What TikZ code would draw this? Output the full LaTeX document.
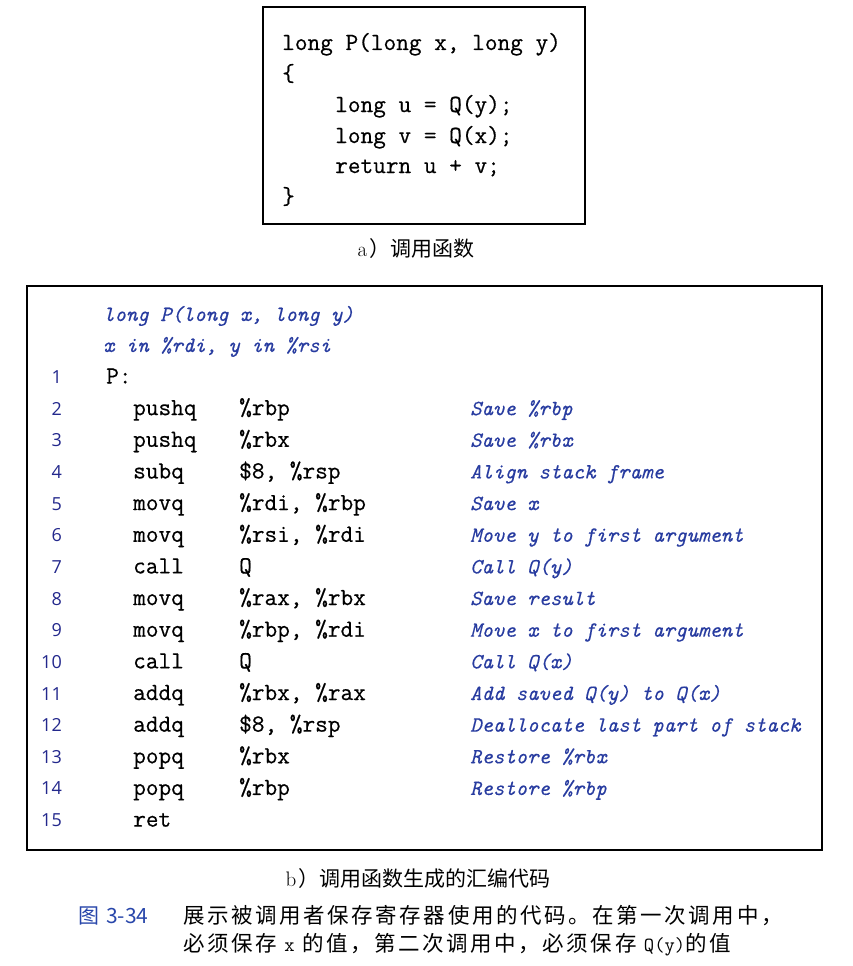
\documentclass[tikz,border=0pt]{standalone}
\usepackage{fontspec}
\newfontfamily\cjk{Noto Sans CJK SC}
\newfontfamily\cjkls[LetterSpace=12]{Noto Sans CJK SC}
\newfontfamily\numfont{Open Sans}
\newfontfamily\codefont[FakeBold=0.5]{Latin Modern Mono}
\newfontfamily\cmtfont[FakeBold=0.3]{Latin Modern Mono}
\definecolor{cmt}{RGB}{40,60,160}
\definecolor{lnum}{RGB}{35,40,140}
\definecolor{capblue}{RGB}{40,70,170}
\begin{document}
\begin{tikzpicture}[x=1pt,y=-1pt,
  code/.style={anchor=base west, inner sep=0pt, font=\fontsize{24.6}{28}\selectfont\codefont},
  cmtx/.style={anchor=base west, inner sep=0pt, text=cmt, font=\fontsize{21.7}{26}\selectfont\cmtfont\itshape},
  lno/.style={anchor=base east, inner sep=0pt, text=lnum, font=\fontsize{18}{20}\selectfont\numfont},
  boxframe/.style={draw, line width=1.3pt},
  captxt/.style={inner sep=0pt, font=\fontsize{21}{24}\selectfont\cjk}
]
\useasboundingbox (0,0) rectangle (852,966);
% ---- box a
\draw[boxframe] (263,7) rectangle (585,224);
\node[code] (a1) at (282,50) {long P(long x, long y)};
\node[code] (a2) at (282,81) {\{};
\node[code] (a3) at (335,112) {long u = Q(y);};
\node[code] (a4) at (335,143) {long v = Q(x);};
\node[code] (a5) at (335,173) {return u + v;};
\node[code] (a6) at (282,204) {\}};
\node[captxt] (capa) at (416,249) {{\rmfamily a}\hspace{2pt}）调用函数};
% ---- box b
\draw[boxframe] (27,286) rectangle (822,850);
\node[cmtx] (h1) at (103,321) {long P(long x, long y)};
\node[cmtx] (h2) at (103,352) {x in \%rdi, y in \%rsi};
% line 1
\node[lno] (n1) at (62,383.5) {1};
\node[code] (c1) at (106,383.5) {P:};
% line 2
\node[lno] (n2) at (62,415.15) {2};
\node[code] (m2) at (133,415.15) {pushq};
\node[code] (o2) at (239,415.15) {\%rbp};
\node[cmtx] (k2) at (470,415.15) {Save \%rbp};
% line 3
\node[lno] (n3) at (62,446.8) {3};
\node[code] (m3) at (133,446.8) {pushq};
\node[code] (o3) at (239,446.8) {\%rbx};
\node[cmtx] (k3) at (470,446.8) {Save \%rbx};
% line 4
\node[lno] (n4) at (62,478.45) {4};
\node[code] (m4) at (133,478.45) {subq};
\node[code] (o4) at (239,478.45) {\$8, \%rsp};
\node[cmtx] (k4) at (470,478.45) {Align stack frame};
% line 5
\node[lno] (n5) at (62,510.1) {5};
\node[code] (m5) at (133,510.1) {movq};
\node[code] (o5) at (239,510.1) {\%rdi, \%rbp};
\node[cmtx] (k5) at (470,510.1) {Save x};
% line 6
\node[lno] (n6) at (62,541.75) {6};
\node[code] (m6) at (133,541.75) {movq};
\node[code] (o6) at (239,541.75) {\%rsi, \%rdi};
\node[cmtx] (k6) at (470,541.75) {Move y to first argument};
% line 7
\node[lno] (n7) at (62,573.4) {7};
\node[code] (m7) at (133,573.4) {call};
\node[code] (o7) at (239,573.4) {Q};
\node[cmtx] (k7) at (470,573.4) {Call Q(y)};
% line 8
\node[lno] (n8) at (62,605.05) {8};
\node[code] (m8) at (133,605.05) {movq};
\node[code] (o8) at (239,605.05) {\%rax, \%rbx};
\node[cmtx] (k8) at (470,605.05) {Save result};
% line 9
\node[lno] (n9) at (62,636.7) {9};
\node[code] (m9) at (133,636.7) {movq};
\node[code] (o9) at (239,636.7) {\%rbp, \%rdi};
\node[cmtx] (k9) at (470,636.7) {Move x to first argument};
% line 10
\node[lno] (n10) at (62,668.35) {10};
\node[code] (m10) at (133,668.35) {call};
\node[code] (o10) at (239,668.35) {Q};
\node[cmtx] (k10) at (470,668.35) {Call Q(x)};
% line 11
\node[lno] (n11) at (62,700) {11};
\node[code] (m11) at (133,700) {addq};
\node[code] (o11) at (239,700) {\%rbx, \%rax};
\node[cmtx] (k11) at (470,700) {Add saved Q(y) to Q(x)};
% line 12
\node[lno] (n12) at (62,731.65) {12};
\node[code] (m12) at (133,731.65) {addq};
\node[code] (o12) at (239,731.65) {\$8, \%rsp};
\node[cmtx] (k12) at (470,731.65) {Deallocate last part of stack};
% line 13
\node[lno] (n13) at (62,763.3) {13};
\node[code] (m13) at (133,763.3) {popq};
\node[code] (o13) at (239,763.3) {\%rbx};
\node[cmtx] (k13) at (470,763.3) {Restore \%rbx};
% line 14
\node[lno] (n14) at (62,794.95) {14};
\node[code] (m14) at (133,794.95) {popq};
\node[code] (o14) at (239,794.95) {\%rbp};
\node[cmtx] (k14) at (470,794.95) {Restore \%rbp};
% line 15
\node[lno] (n15) at (62,826.6) {15};
\node[code] (m15) at (133,826.6) {ret};
% ---- captions
\node[captxt] (capb) at (418,879) {{\rmfamily b}\hspace{2pt}）调用函数生成的汇编代码};
\node[captxt, anchor=west, text=capblue] (fig) at (78,916) {图\hspace{7pt}3-34};
\node[inner sep=0pt, anchor=west, font=\fontsize{21.5}{24}\selectfont\cjkls] (l1) at (183,916) {展示被调用者保存寄存器使用的代码。在第一次调用中，};
\node[inner sep=0pt, anchor=west, font=\fontsize{21.5}{24}\selectfont\cjkls] (l2) at (183,945) {必须保存 {\fontsize{20}{22}\selectfont\ttfamily x} 的值，第二次调用中，必须保存 {\fontsize{20}{22}\selectfont\ttfamily Q(y)}的值};
\end{tikzpicture}
\end{document}
